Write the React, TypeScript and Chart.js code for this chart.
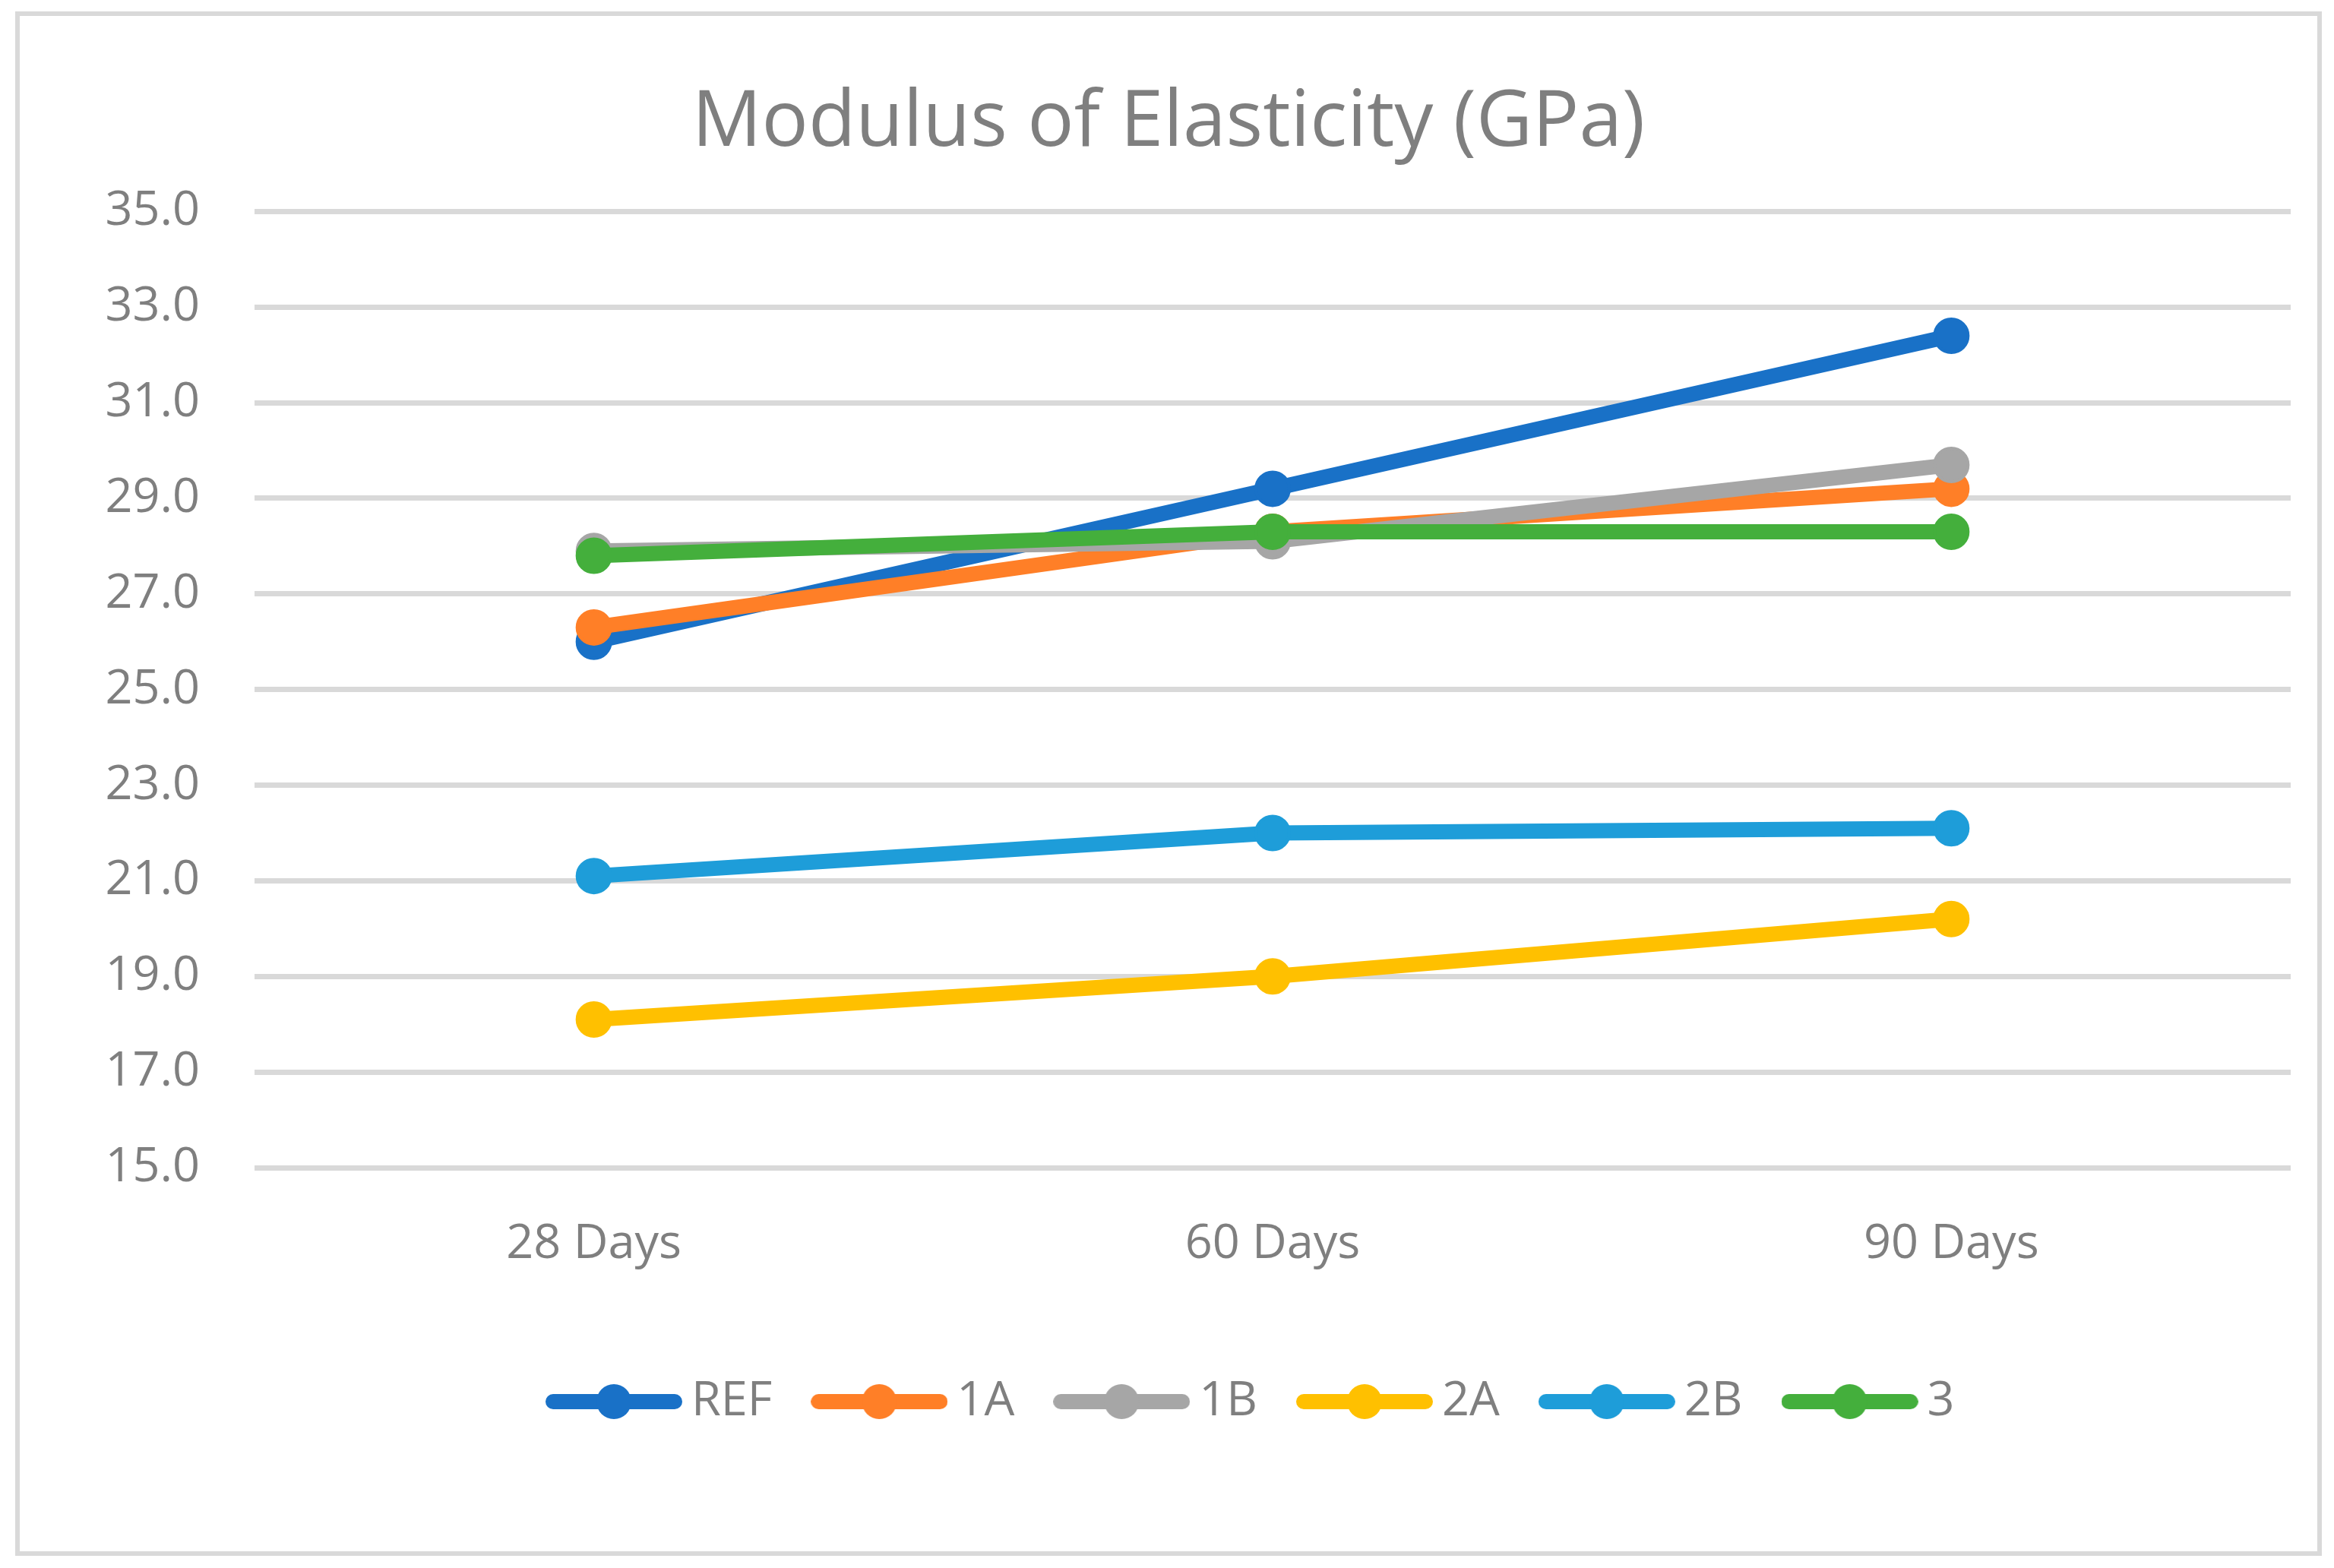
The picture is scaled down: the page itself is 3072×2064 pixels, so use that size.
import React, { useEffect, useRef } from "react";
import { Chart, registerables } from "chart.js";

Chart.register(...registerables);

const categories = ["28 Days", "60 Days", "90 Days"];
const seriesNames = ["REF", "1A", "1B", "2A", "2B", "3"];
const refValues = [26.0, 29.2, 32.4];
const a1Values = [26.3, 28.3, 29.2];
const b1Values = [27.9, 28.1, 29.7];
const a2Values = [18.1, 19.0, 20.2];
const b2Values = [21.1, 22.0, 22.1];
const s3Values = [27.8, 28.3, 28.3];
const seriesValues = [refValues, a1Values, b1Values, a2Values, b2Values, s3Values];
const seriesColors = ["#1971C7", "#FF7F27", "#A6A6A6", "#FFC000", "#1E9DD9", "#44AF3C"];
const yMin = 15;
const yMax = 35;
const yStep = 2;
const titleText = "Modulus of Elasticity (GPa)";

const FONT = "'Open Sans', 'Noto Sans', sans-serif";
const TEXT_COLOR = "#7F7F7F";
const GRID_COLOR = "#D9D9D9";

function makeLegendIcon(color: string): HTMLCanvasElement {
  const c = document.createElement("canvas");
  c.width = 180;
  c.height = 50;
  const ctx = c.getContext("2d")!;
  ctx.strokeStyle = color;
  ctx.lineWidth = 20;
  ctx.lineCap = "round";
  ctx.beginPath();
  ctx.moveTo(10, 25);
  ctx.lineTo(170, 25);
  ctx.stroke();
  ctx.fillStyle = color;
  ctx.beginPath();
  ctx.arc(90, 25, 23, 0, Math.PI * 2);
  ctx.fill();
  return c;
}

const legendShift = {
  id: "legendShift",
  afterLayout(chart: any) {
    if (chart.legend) {
      chart.legend.left -= 20;
      chart.legend.right -= 20;
    }
  },
};

export default function App() {
  const canvasRef = useRef<HTMLCanvasElement | null>(null);

  useEffect(() => {
    if (!canvasRef.current) return;
    const icons = seriesColors.map((c) => makeLegendIcon(c));
    const n = seriesNames.length;
    const chart = new Chart(canvasRef.current, {
      type: "line",
      data: {
        labels: categories,
        datasets: seriesNames.map((name, i) => ({
          label: name,
          data: seriesValues[i],
          borderColor: seriesColors[i],
          backgroundColor: seriesColors[i],
          borderWidth: 20,
          borderCapStyle: "round",
          borderJoinStyle: "round",
          pointRadius: 22,
          pointBorderWidth: 4,
          pointBackgroundColor: seriesColors[i],
          pointBorderColor: seriesColors[i],
          pointHoverRadius: 22,
          tension: 0,
          fill: false,
          order: n - i,
        })),
      },
      plugins: [legendShift],
      options: {
        animation: false,
        responsive: false,
        devicePixelRatio: 1,
        layout: { padding: { left: 61, right: 57, top: 0, bottom: 177.5 } },
        font: { family: FONT },
        plugins: {
          title: {
            display: true,
            text: titleText,
            color: TEXT_COLOR,
            font: { family: FONT, size: 102, weight: "normal" },
            padding: { top: 102, bottom: 54 },
          },
          legend: {
            display: true,
            position: "bottom",
            fullSize: false,
            labels: {
              usePointStyle: true,
              pointStyleWidth: 141,
              padding: 70.5,
              color: TEXT_COLOR,
              font: { family: FONT, size: 63 },
              sort: (a: any, b: any) => a.datasetIndex - b.datasetIndex,
              generateLabels: (ch: any) => {
                const items = Chart.defaults.plugins.legend.labels.generateLabels(ch);
                items.forEach((it: any) => {
                  it.pointStyle = icons[it.datasetIndex];
                });
                return items;
              },
            },
          },
          tooltip: { enabled: false },
        },
        scales: {
          x: {
            offset: true,
            grid: { display: false, drawTicks: false },
            border: { display: false },
            ticks: {
              color: TEXT_COLOR,
              font: { family: FONT, size: 63 },
              padding: 63,
              maxRotation: 0,
            },
            afterFit: (scale: any) => {
              scale.height = 206;
            },
          },
          y: {
            min: yMin,
            max: yMax,
            grid: { color: GRID_COLOR, lineWidth: 7, drawTicks: false },
            border: { display: false },
            ticks: {
              stepSize: yStep,
              color: TEXT_COLOR,
              font: { family: FONT, size: 63 },
              padding: 72,
              callback: (v: any) => Number(v).toFixed(1),
            },
            afterFit: (scale: any) => {
              scale.width = 274;
            },
          },
        },
      },
    });
    return () => chart.destroy();
  }, []);

  return (
    <div style={{ position: "absolute", left: 0, top: 0, width: 3072, height: 2064, background: "#ffffff" }}>
      <div
        style={{
          position: "absolute",
          left: 20,
          top: 15,
          width: 3036,
          height: 2033,
          boxSizing: "border-box",
          border: "6px solid #D9D9D9",
        }}
      />
      <canvas
        ref={canvasRef}
        width={3072}
        height={2064}
        style={{ position: "absolute", left: 0, top: 0, width: 3072, height: 2064 }}
      />
    </div>
  );
}
